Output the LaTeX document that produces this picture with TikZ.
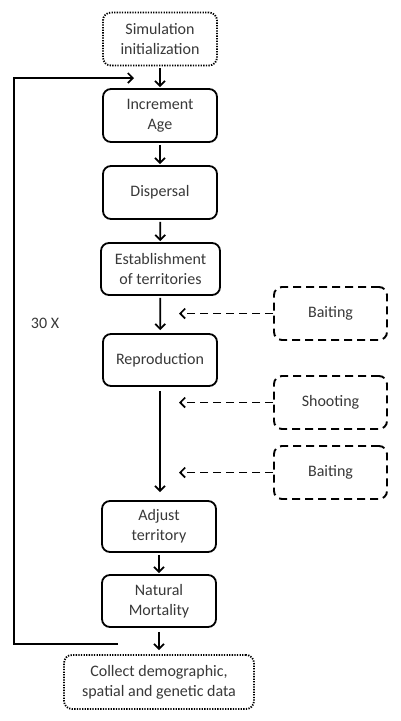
\documentclass[tikz,border=0pt]{standalone}
\usepackage{fontspec}
\setmainfont{Carlito}
\usetikzlibrary{arrows.meta}
\definecolor{txt}{HTML}{383838}
\tikzset{
  box/.style={draw=black, line width=1.8pt, rounded corners=8pt, align=center,
    inner sep=0pt, text=txt, font=\fontsize{16}{20}\selectfont,
    minimum width=114pt, minimum height=53pt},
  dotbox/.style={box, dash pattern=on 1.3pt off 1.3pt, line width=1.8pt},
  dashbox/.style={box, dash pattern=on 8pt off 5pt, line width=1.9pt},
  arr/.style={line width=1.7pt, -{Straight Barb[length=5pt,width=10pt,line width=1.7pt]}},
  darr/.style={arr, dash pattern=on 8pt off 5pt},
}
\begin{document}
\begin{tikzpicture}[x=1pt,y=-1pt]
\useasboundingbox (0,0) rectangle (400,721);
\node[dotbox] (init) at (160,39) {Simulation\\initialization};
\node[box] (age) at (160,115.5) {Increment\\Age};
\node[box] (disp) at (160,192.5) {Dispersal};
\node[box, minimum width=119pt, minimum height=52pt] (est) at (160.5,269) {Establishment\\of territories};
\node[box, minimum height=52pt] (repro) at (160,360) {Reproduction};
\node[box, minimum height=51pt] (adj) at (159,526.5) {Adjust\\territory};
\node[box, minimum height=52pt] (mort) at (159,601) {Natural\\Mortality};
\node[dotbox, minimum width=190pt, minimum height=54pt] (coll) at (159,682) {Collect demographic,\\spatial and genetic data};
\node[dashbox, minimum width=113pt] (b1) at (330.5,313.5) {Baiting};
\node[dashbox, minimum width=113pt] (sh) at (330.5,402.5) {Shooting};
\node[dashbox, minimum width=113pt] (b2) at (330.5,472.5) {Baiting};
\node[text=txt, font=\fontsize{16}{20}\selectfont] (n30) at (45,323) {30 X};

\coordinate (t1) at (179,313.5);
\coordinate (t2) at (179,402.5);
\coordinate (t3) at (179,472.5);
\coordinate (ls) at (118,644);
\coordinate (lb) at (14,644);
\coordinate (lt) at (14,78);
\coordinate (le) at (134,78);

\draw[arr, shorten <=2pt, shorten >=1pt] (init) -- (age);
\draw[arr, shorten <=2pt, shorten >=1pt] (age) -- (disp);
\draw[arr, shorten <=2pt, shorten >=1pt] (disp) -- (est);
\draw[arr, shorten <=2pt, shorten >=3pt] (est) -- (repro);
\draw[arr, shorten <=4pt, shorten >=8pt] (repro.south) -- (repro.south |- adj.north);
\draw[arr, shorten <=2pt, shorten >=1pt] (adj.south) -- (adj.south |- mort.north);
\draw[arr, shorten <=4pt, shorten >=4pt] (mort.south) -- (mort.south |- coll.north);
\draw[darr] (b1.west) -- (t1);
\draw[darr] (sh.west) -- (t2);
\draw[darr] (b2.west) -- (t3);
\draw[arr, rounded corners=0pt] (ls) -- (lb) -- (lt) -- (le);
\end{tikzpicture}
\end{document}
